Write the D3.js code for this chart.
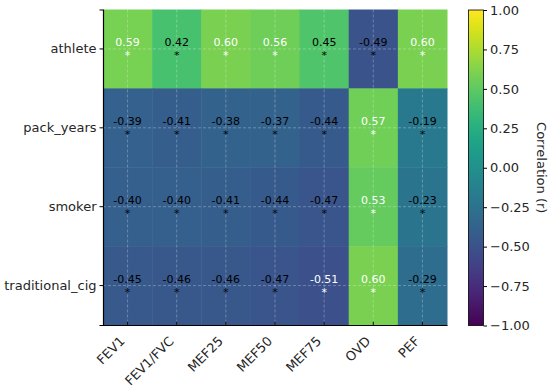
<!DOCTYPE html>
<html><head><meta charset="utf-8">
<script src="https://cdn.jsdelivr.net/npm/d3@7"></script>
<style>body{margin:0;background:#fff}svg{display:block}</style>
</head><body>
<script>
const columns = ["FEV1","FEV1/FVC","MEF25","MEF50","MEF75","OVD","PEF"];
const rows = ["athlete","pack_years","smoker","traditional_cig"];
const athlete = [0.59,0.42,0.60,0.56,0.45,-0.49,0.60];
const packYears = [-0.39,-0.41,-0.38,-0.37,-0.44,0.57,-0.19];
const smoker = [-0.40,-0.40,-0.41,-0.44,-0.47,0.53,-0.23];
const traditionalCig = [-0.45,-0.46,-0.46,-0.47,-0.51,0.60,-0.29];
const significance = [
  ["*","*","*","*","*","*","*"],
  ["*","*","*","*","*","*","*"],
  ["*","*","*","*","*","*","*"],
  ["*","*","*","*","*","*","*"]
];
const colorTicks = [1.00,0.75,0.50,0.25,0.00,-0.25,-0.50,-0.75,-1.00];
const seriesValues = [athlete, packYears, smoker, traditionalCig];

const W=550,H=386;
const font="DejaVu Sans, sans-serif";
const svg=d3.select("body").append("svg").attr("width",W).attr("height",H).style("font-family",font);
const L=103,R=447,T=9.5,B=325;
const x=d3.scaleBand().domain(columns).range([L,R]);
const y=d3.scaleBand().domain(rows).range([T,B]);
const color=d3.scaleSequential(d3.interpolateViridis).domain([-1,1]);

const cells=[];
rows.forEach((r,i)=>columns.forEach((c,j)=>cells.push({r,c,v:seriesValues[i][j],s:significance[i][j]})));

svg.append("g").selectAll("rect").data(cells).join("rect")
  .attr("x",d=>x(d.c)).attr("y",d=>y(d.r))
  .attr("width",x.bandwidth()+0.5).attr("height",y.bandwidth()+0.5)
  .attr("fill",d=>color(d.v));

// grid
const grid=svg.append("g").attr("stroke","rgba(255,255,255,0.35)").attr("stroke-width",0.8).attr("stroke-dasharray","3,2");
columns.forEach(c=>grid.append("line").attr("x1",x(c)+x.bandwidth()/2).attr("x2",x(c)+x.bandwidth()/2).attr("y1",T).attr("y2",B));
rows.forEach(r=>grid.append("line").attr("y1",y(r)+y.bandwidth()/2).attr("y2",y(r)+y.bandwidth()/2).attr("x1",L).attr("x2",R));

const txt=svg.append("g").attr("text-anchor","middle").style("font-size","11px");
cells.forEach(d=>{
  const cx=x(d.c)+x.bandwidth()/2, cy=y(d.r)+y.bandwidth()/2;
  const col=Math.abs(d.v)>0.5?"#ffffff":"#000000";
  txt.append("text").attr("x",cx).attr("y",cy-3).attr("fill",col).text(d.v.toFixed(2));
  txt.append("text").attr("x",cx).attr("y",cy+10).attr("fill",col).text(d.s);
});

// axes
const yAxis=svg.append("g").attr("transform",`translate(${L},0)`).call(d3.axisLeft(y).tickSize(3.5).tickPadding(3));
yAxis.select(".domain").attr("stroke","#000").attr("stroke-width",1.2);
yAxis.selectAll("text").style("font-size","13px").style("font-family",font).attr("fill","#262626");
const xAxis=svg.append("g").attr("transform",`translate(0,${B})`).call(d3.axisBottom(x).tickSize(-3.5).tickSizeOuter(0));
xAxis.select(".domain").attr("stroke","#000").attr("stroke-width",1.2);
xAxis.selectAll(".tick line").attr("stroke","#111");
xAxis.selectAll("text").style("font-size","13px").style("font-family",font).attr("fill","#262626")
  .attr("text-anchor","end").attr("dy",0).attr("y",0)
  .attr("transform","translate(-2,17) rotate(-45)");

// colorbar
const cbX=468.5,cbW=15,cbT=10,cbB=325.5;
const defs=svg.append("defs");
const grad=defs.append("linearGradient").attr("id","vir").attr("x1",0).attr("x2",0).attr("y1",1).attr("y2",0);
d3.range(0,1.0001,0.05).forEach(t=>grad.append("stop").attr("offset",t).attr("stop-color",d3.interpolateViridis(t)));
svg.append("rect").attr("x",cbX).attr("y",cbT).attr("width",cbW).attr("height",cbB-cbT).attr("fill","url(#vir)").attr("stroke","#000").attr("stroke-width",0.8);
const cy=d3.scaleLinear().domain([-1,1]).range([cbB,cbT]);
const cAxis=svg.append("g").attr("transform",`translate(${cbX+cbW},0)`).call(d3.axisRight(cy).tickValues(colorTicks).tickSize(3.5).tickPadding(3).tickFormat(d=>d3.format(".2f")(d).replace("-","\u2212")));
cAxis.select(".domain").remove();
cAxis.selectAll("text").style("font-size","13px").style("font-family",font).attr("fill","#262626");
svg.append("text").attr("transform",`translate(537,${(cbT+cbB)/2}) rotate(90)`).attr("text-anchor","middle")
  .style("font-size","13px").attr("fill","#262626").text("Correlation (r)");
</script>
</body></html>
